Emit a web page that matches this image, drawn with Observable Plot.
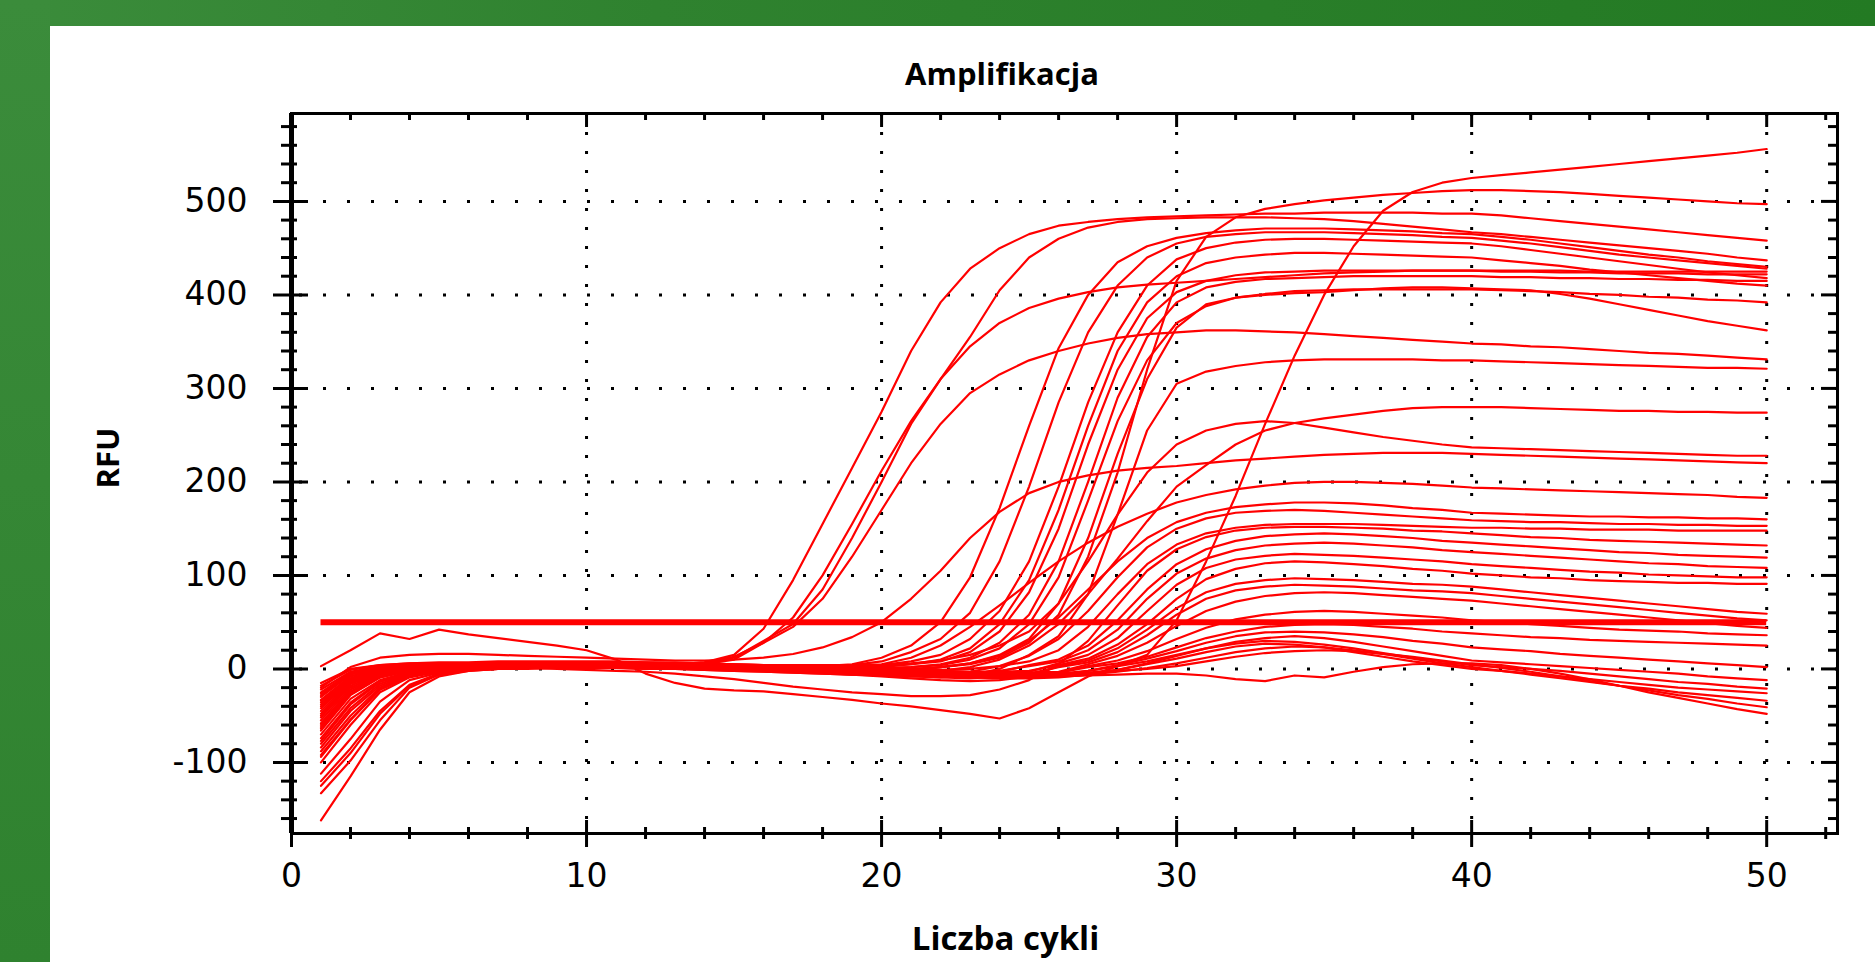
<!DOCTYPE html>
<html>
<head>
<meta charset="utf-8">
<script src="https://cdn.jsdelivr.net/npm/d3@7"></script>
<script src="https://cdn.jsdelivr.net/npm/@observablehq/plot@0.6"></script>
<style>
  html, body { margin: 0; padding: 0; background: #ffffff; width: 1875px; height: 962px; overflow: hidden; }
  body { position: relative; }
  #bandTop { position: absolute; left: 0; top: 0; width: 1875px; height: 26px;
    background: linear-gradient(to right, #3b8c3b 0%, #2f822f 35%, #237a23 100%); }
  #bandLeft { position: absolute; left: 0; top: 0; width: 50px; height: 962px;
    background: linear-gradient(to bottom, #3b8c3b 0%, #2f822f 100%); }
  #title { position: absolute; left: 702px; top: 58px; width: 600px; text-align: center;
    font-family: "Open Sans", "Liberation Sans", sans-serif; font-weight: 700; font-size: 31px;
    line-height: 31px; color: #000; }
  #chart { position: absolute; left: 0; top: 100px; }
</style>
</head>
<body>
<div id="bandTop"></div>
<div id="bandLeft"></div>
<div id="title">Amplifikacja</div>
<div id="chart"></div>
<script>
// ---------- axes / ticks ----------
const cycles = [1,2,3,4,5,6,7,8,9,10,11,12,13,14,15,16,17,18,19,20,21,22,23,24,25,26,27,28,29,30,31,32,33,34,35,36,37,38,39,40,41,42,43,44,45,46,47,48,49,50];
const xDomain = [0, 52.4];
const yDomain = [-176, 594];
const xMajor = [0, 10, 20, 30, 40, 50];
const xMinor = [2,4,6,8,12,14,16,18,22,24,26,28,32,34,36,38,42,44,46,48,52];
const yMajor = [-100, 0, 100, 200, 300, 400, 500];
const yMinor = [-160,-140,-120,-80,-60,-40,-20,20,40,60,80,120,140,160,180,220,240,260,280,320,340,360,380,420,440,460,480,520,540,560,580];
const threshold = 50;
const thresholdSpan = [1, 50];

// ---------- RFU curves (one value per cycle 1..50) ----------
const cL  = [3,20,38,32,42,37,33,29,25,20, 10,-5,-15,-21,-23,-24,-27,-30,-33,-37, -40,-44,-48,-53,-42,-25,-8,3,15,52, 115,185,262,335,400,452,490,510,520,525, 528,531,534,537,540,543,546,549,552,556];
const cG1 = [-20,2,12,15,16,16,15,14,13,12, 11,10,9,9,10,12,16,23,34,50, 75,105,140,168,188,200,207,212,215,217, 220,223,225,227,229,230,231,231,231,230, 229,228,227,226,225,224,223,222,221,220];
const cA1 = [-112,-75,-35,-12,-4,0,1,2,2,3, 3,4,5,7,15,43,95,155,215,275, 340,392,428,450,465,474,478,481,483,484, 485,486,487,487,488,488,488,488,487,487, 485,482,479,476,473,470,467,464,461,458];
const cA2 = [-84,-45,-18,-6,-1,0,1,1,2,2, 3,3,4,5,10,28,55,100,155,212, 265,310,355,405,440,460,472,478,481,482, 483,483,483,482,481,479,476,473,470,467, 465,462,459,456,453,450,447,444,440,437];
const cA3 = [-70,-32,-12,-3,0,1,2,2,3,3, 3,4,4,6,12,30,48,85,140,200, 262,310,345,370,386,396,403,408,411,413, 415,417,419,421,423,424,425,426,426,426, 426,426,426,425,425,425,425,425,425,425];
const cA4 = [-55,-20,-6,0,2,2,3,3,3,4, 4,4,5,7,13,28,45,75,120,170, 220,262,295,315,330,340,348,354,358,360, 362,362,361,360,358,356,354,352,350,348, 347,345,344,342,340,338,337,335,333,331];
const cG2 = [-28,-5,2,4,5,5,5,5,4,4, 3,3,2,2,1,1,0,-1,-2,-3, -3,-2,2,10,25,48,80,118,158,195, 218,240,255,263,268,272,276,279,280,280, 280,279,278,277,276,276,275,275,274,274];
const cG3 = [-62,-25,-8,-2,1,2,3,3,4,4, 4,4,5,5,5,4,4,3,3,4, 6,9,15,25,40,70,115,165,210,240, 255,262,265,263,258,253,248,244,240,237, 236,235,234,233,232,231,230,229,228,228];
const cB1 = [-77,-38,-14,-4,0,1,2,2,2,3, 3,3,3,4,4,4,3,3,5,12, 25,50,98,172,260,343,400,435,452,461, 466,469,471,471,471,470,469,468,466,465, 462,459,455,451,447,443,440,436,433,430];
const cB2 = [-162,-115,-65,-25,-8,-2,0,1,1,2, 2,2,3,3,3,3,2,2,4,8, 18,32,60,115,195,285,360,410,440,455, 462,465,467,467,467,466,465,464,462,461, 458,455,451,447,443,440,437,434,431,428];
const cB3 = [-48,-15,-4,1,2,3,3,4,4,4, 5,5,5,5,4,4,3,2,2,4, 8,15,32,62,115,195,285,360,410,438, 450,456,459,460,460,459,458,457,456,455, 452,448,444,440,436,432,428,424,421,418];
const cB4 = [-34,-8,0,3,4,4,5,5,6,6, 6,6,5,5,4,3,2,1,1,3, 5,10,22,48,95,170,260,340,392,420, 434,440,443,445,445,444,443,442,441,440, 437,434,431,427,424,421,418,415,412,410];
const cB5 = [-133,-98,-55,-20,-6,-1,0,1,2,2, 2,3,3,2,2,1,0,-1,-1,2, 5,8,18,40,82,150,240,320,375,403, 415,421,424,425,426,426,426,426,426,426, 425,425,424,424,423,423,423,422,422,422];
const cB6 = [-40,-12,-2,2,3,3,4,4,4,4, 4,3,3,2,1,0,-1,-2,-2,0, 2,5,12,28,58,115,200,290,355,392, 408,414,417,418,419,420,420,420,420,420, 419,419,418,418,417,417,416,416,415,415];
const cB7 = [-22,-3,3,5,5,5,6,6,6,6, 6,5,5,4,3,2,1,0,0,1, 2,4,10,22,48,98,180,265,330,370, 388,397,401,404,405,406,406,406,406,406, 405,404,403,401,400,398,397,395,394,392];
const cB8 = [-94,-55,-22,-8,-2,0,1,1,1,2, 2,2,1,1,0,-1,-2,-3,-4,-4, -3,2,6,15,32,70,140,230,310,365, 390,397,400,402,403,405,407,408,408,407, 406,405,401,396,390,384,378,372,367,362];
const cH1 = [-15,0,4,6,6,6,7,7,7,7, 6,6,5,5,4,3,2,1,0,0, 0,2,5,12,28,58,120,210,320,415, 462,483,492,497,501,504,507,509,511,512, 512,511,510,508,506,504,502,500,498,497];
const cB9 = [-60,-24,-7,-1,1,2,3,3,4,4, 4,4,3,3,2,1,0,-2,-4,-6, -8,-9,-7,0,15,35,80,165,255,305, 318,324,328,330,331,331,331,331,330,330, 329,328,327,326,325,324,323,322,322,321];
const cC1 = [-100,-60,-25,-9,-3,0,1,2,2,3, 3,3,4,4,4,4,4,4,4,5, 12,25,45,68,92,115,135,152,166,178, 186,192,196,199,200,200,199,198,196,194, 193,192,191,190,189,188,187,186,184,183];
const cC2 = [-36,-10,-1,3,4,4,5,5,5,5, 5,4,4,3,2,1,0,-1,-2,-2, -1,2,6,14,30,55,85,115,140,157, 167,173,176,178,178,177,175,172,170,167, 166,165,164,163,163,162,162,161,161,160];
const cC3 = [-80,-42,-16,-5,-1,0,1,1,1,1, 1,0,0,-1,-2,-3,-4,-5,-6,-6, -6,-5,-3,3,14,32,62,98,130,150, 161,167,169,170,169,167,165,163,161,159, 158,157,157,156,155,155,154,154,153,153];
const cC4 = [-45,-14,-3,1,3,3,4,4,4,5, 5,5,5,4,4,3,3,2,1,0, -1,-1,0,3,8,20,45,80,112,133, 145,151,154,155,155,155,154,153,152,151, 151,150,150,149,149,149,148,148,148,148];
const cC5 = [-52,-18,-5,0,2,2,2,1,0,-1, -2,-3,-5,-8,-11,-15,-19,-22,-25,-27, -29,-29,-28,-22,-12,5,30,68,105,128, 141,148,151,152,152,151,150,148,147,145, 143,141,140,138,137,136,135,134,133,132];
const cC6 = [-30,-6,1,4,5,5,5,5,5,5, 4,4,3,3,2,1,0,-1,-2,-3, -4,-5,-5,-3,4,10,25,52,85,112, 128,137,142,144,145,144,142,140,137,135, 133,131,129,127,125,124,122,121,120,119];
const cC7 = [-42,-13,-3,1,3,3,3,3,4,4, 4,4,4,3,3,2,1,0,-1,-2, -3,-4,-4,-2,3,8,20,42,75,102, 118,127,132,134,135,134,132,130,127,125, 123,121,119,117,115,113,112,110,109,108];
const cC8 = [-66,-28,-9,-2,0,1,2,2,2,3, 3,3,3,2,2,1,0,-1,-3,-5, -7,-9,-10,-8,-3,6,15,33,62,90, 108,117,121,123,122,121,119,117,115,112, 110,108,106,104,103,101,100,99,98,98];
const cC9 = [-25,-4,2,5,6,6,7,7,7,7, 7,7,6,6,5,4,3,2,1,0, -1,-2,-3,-3,-2,4,11,26,48,75, 96,107,113,115,114,112,110,107,105,102, 100,98,97,95,94,93,92,92,91,91];
const cC10 = [-88,-50,-20,-7,-2,0,1,1,2,2, 2,2,1,1,0,-1,-2,-4,-6,-8, -10,-12,-13,-12,-8,3,9,22,42,65, 82,91,95,97,96,95,93,91,90,88, 85,82,79,76,73,70,67,64,61,59];
const cC11 = [-120,-85,-45,-17,-5,-1,0,1,1,1, 1,1,0,0,-1,-2,-3,-4,-5,-6, -7,-8,-8,-7,-5,2,7,18,36,58, 75,84,88,90,89,88,86,84,83,81, 78,75,72,69,66,63,60,57,54,52];
const cC12 = [-18,-1,4,6,7,7,8,8,8,8, 8,7,7,6,5,4,3,2,1,0, -1,-2,-3,-4,-4,-3,5,14,28,46, 62,72,78,81,82,81,79,77,75,73, 70,67,64,61,58,55,52,49,46,44];
const cC13 = [-58,-22,-7,-1,1,2,2,3,3,3, 3,3,3,2,1,0,-1,-2,-3,-4, -5,-6,-7,-7,-6,-4,3,9,19,32, 44,53,58,61,62,61,59,57,55,52, 50,48,46,44,42,41,40,38,37,36];
const cC14 = [-33,-8,0,3,4,4,5,5,5,5, 5,5,4,4,3,2,1,0,-1,-2, -3,-4,-5,-5,-5,-4,2,6,13,23, 33,40,45,47,48,47,45,43,40,38, 36,34,33,31,30,29,28,27,26,25];
const cC15 = [-50,-16,-4,1,2,3,3,3,3,3, 3,3,2,2,1,0,-1,-2,-3,-4, -5,-6,-7,-8,-8,-7,-2,4,11,19, 28,35,39,40,39,37,34,30,27,23, 21,19,16,14,12,10,8,6,4,2];
const cC16 = [-74,-36,-13,-4,-1,0,1,1,1,1, 1,1,0,0,-1,-2,-3,-4,-5,-6, -7,-8,-9,-10,-10,-9,-6,-1,6,14, 22,29,33,35,33,29,24,19,14,9, 7,5,3,1,-1,-3,-5,-8,-10,-12];
const cC17 = [-26,-5,2,4,5,5,6,6,6,6, 6,5,5,4,3,2,1,0,-1,-2, -3,-4,-5,-6,-6,-5,-2,3,8,15, 22,27,30,29,26,22,17,12,8,4, 2,0,-2,-5,-8,-11,-14,-16,-19,-21];
const cC18 = [-38,-11,-2,2,3,4,4,4,4,4, 4,4,3,3,2,1,0,-1,-2,-3, -4,-5,-6,-7,-7,-6,-4,-1,5,11, 18,24,27,26,23,18,13,8,4,0, -2,-5,-8,-11,-14,-17,-20,-22,-24,-26];
const cC19 = [-64,-27,-9,-2,0,1,2,2,2,2, 2,2,1,1,0,-1,-2,-3,-4,-5, -6,-7,-8,-9,-9,-8,-6,-3,1,6, 12,18,22,24,23,20,16,11,6,2, -2,-6,-10,-14,-18,-21,-25,-28,-31,-34];
const cC20 = [-92,-54,-22,-8,-2,0,1,1,1,2, 2,2,1,1,0,-1,-2,-3,-4,-5, -6,-7,-8,-8,-8,-7,-5,-2,0,3, 8,13,17,19,20,19,16,13,9,5, 1,-3,-8,-13,-18,-23,-28,-32,-37,-41];
const cC21 = [-125,-90,-48,-18,-6,-2,0,0,1,1, 1,0,0,-1,-2,-3,-4,-5,-6,-7, -8,-8,-8,-8,-8,-8,-7,-6,-5,-5, -7,-11,-13,-7,-9,-3,2,5,6,6, 4,0,-5,-11,-18,-25,-31,-37,-43,-48];

const series = [
  ["L", cL], ["G1", cG1], ["A1", cA1], ["A2", cA2], ["A3", cA3], ["A4", cA4],
  ["G2", cG2], ["G3", cG3], ["B1", cB1], ["B2", cB2], ["B3", cB3], ["B4", cB4],
  ["B5", cB5], ["B6", cB6], ["B7", cB7], ["B8", cB8], ["H1", cH1], ["B9", cB9],
  ["C1", cC1], ["C2", cC2], ["C3", cC3], ["C4", cC4], ["C5", cC5], ["C6", cC6],
  ["C7", cC7], ["C8", cC8], ["C9", cC9], ["C10", cC10], ["C11", cC11], ["C12", cC12],
  ["C13", cC13], ["C14", cC14], ["C15", cC15], ["C16", cC16], ["C17", cC17],
  ["C18", cC18], ["C19", cC19], ["C20", cC20], ["C21", cC21]
];

const rows = series.flatMap(([name, vals]) =>
  vals.map((v, i) => ({curve: name, cycle: cycles[i], rfu: v})));

const tickFont = "DejaVu Sans";
const labelFont = "Open Sans";
const black = "#000000";
const red = "#ff0000";

const chart = Plot.plot({
  width: 1875,
  height: 862,
  marginTop: 13,
  marginRight: 38,
  marginBottom: 129,
  marginLeft: 291,
  x: {domain: xDomain},
  y: {domain: yDomain},
  style: {background: "transparent", overflow: "visible"},
  marks: [
    // dotted grid
    Plot.ruleY(yMajor, {stroke: black, strokeWidth: 3, strokeDasharray: "3,21", insetLeft: 8}),
    Plot.ruleX(xMajor.filter(d => d > xDomain[0]), {stroke: black, strokeWidth: 3, strokeDasharray: "3,16"}),
    // amplification curves
    Plot.line(rows, {x: "cycle", y: "rfu", z: "curve", stroke: red, strokeWidth: 2.2, strokeOpacity: 1}),
    // threshold
    Plot.ruleY([threshold], {x1: thresholdSpan[0], x2: thresholdSpan[1], stroke: red, strokeWidth: 6}),
    // frame and axis lines
    Plot.frame({stroke: black, strokeWidth: 3}),
    Plot.ruleX([xDomain[0]], {stroke: black, strokeWidth: 5}),
    // left ticks (crossing the axis)
    Plot.ruleY(yMajor, {x1: xDomain[0], x2: xDomain[0], insetLeft: -18, insetRight: -17, stroke: black, strokeWidth: 3}),
    Plot.ruleY(yMinor, {x1: xDomain[0], x2: xDomain[0], insetLeft: -10, insetRight: -6, stroke: black, strokeWidth: 3}),
    // right ticks (inward)
    Plot.ruleY(yMajor, {x1: xDomain[1], x2: xDomain[1], insetLeft: -16, stroke: black, strokeWidth: 3}),
    Plot.ruleY(yMinor, {x1: xDomain[1], x2: xDomain[1], insetLeft: -9, stroke: black, strokeWidth: 3}),
    // bottom ticks (crossing)
    Plot.ruleX(xMajor, {y1: yDomain[0], y2: yDomain[0], insetTop: -13, insetBottom: -14, stroke: black, strokeWidth: 3}),
    Plot.ruleX(xMinor, {y1: yDomain[0], y2: yDomain[0], insetTop: -6, insetBottom: -6, stroke: black, strokeWidth: 3}),
    // top ticks (inward)
    Plot.ruleX(xMajor, {y1: yDomain[1], y2: yDomain[1], insetBottom: -14, stroke: black, strokeWidth: 3}),
    Plot.ruleX(xMinor, {y1: yDomain[1], y2: yDomain[1], insetBottom: -7, stroke: black, strokeWidth: 3}),
    // tick labels
    Plot.axisX({ticks: xMajor, tickSize: 0, tickPadding: 30, tickFormat: d => String(d),
      fontSize: 33, fontFamily: tickFont, fill: black, label: null}),
    Plot.axisY({ticks: yMajor, tickSize: 0, tickPadding: 44, tickFormat: d => String(d),
      fontSize: 33, fontFamily: tickFont, fill: black, label: null}),
    // axis titles
    Plot.text(["RFU"], {text: d => d, frameAnchor: "left", dx: -182, dy: 15, rotate: -90,
      fontSize: 31, fontWeight: "bold", fontFamily: labelFont, fill: black}),
    Plot.text(["Liczba cykli"], {text: d => d, frameAnchor: "bottom", dx: -59, dy: 116,
      fontSize: 33, fontWeight: "bold", fontFamily: labelFont, fill: black})
  ]
});
document.getElementById("chart").appendChild(chart);
</script>
</body>
</html>
